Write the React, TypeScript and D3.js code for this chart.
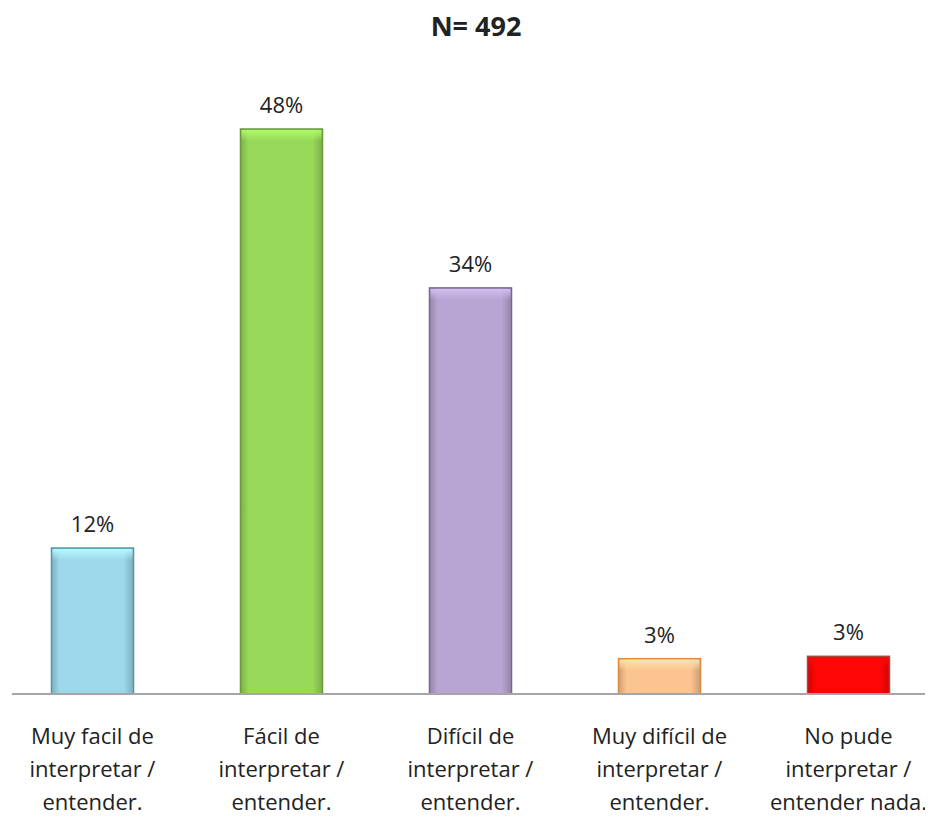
import React from "react";
import * as d3 from "d3";

const categories = [
  ["Muy facil de", "interpretar /", "entender."],
  ["Fácil de", "interpretar /", "entender."],
  ["Difícil de", "interpretar /", "entender."],
  ["Muy difícil de", "interpretar /", "entender."],
  ["No pude", "interpretar /", "entender nada."],
];
const values = [12.4, 48.0, 34.5, 3.0, 3.2];
const valueLabels = ["12%", "48%", "34%", "3%", "3%"];
const fills = ["#9dd8ea", "#98d95a", "#b8a5d3", "#fbc491", "#ff0606"];
const borders = ["#4d97ab", "#6b9a3d", "#7a6597", "#e08a3e", "#a84848"];
const title = "N= 492";

const W = 933;
const H = 819;
const baseY = 694;
const font = "'Open Sans', sans-serif";

export default function App() {
  const x = d3
    .scaleBand<number>()
    .domain(d3.range(categories.length))
    .range([-2, 943])
    .paddingInner(0.566)
    .paddingOuter(0.283);
  const y = d3.scaleLinear().domain([0, 48]).range([baseY, 129]);
  const bw = x.bandwidth();

  return (
    <svg width={W} height={H} style={{ display: "block", margin: "-8px", background: "#fff" }}>
      <defs>
        {fills.map((f, i) => {
          const c = d3.color(f)!;
          const dark = d3.color(f)!.darker(0.6).formatHex();
          const light = d3.color(f)!.brighter(0.4).formatHex();
          return (
            <React.Fragment key={i}>
              <linearGradient id={`h${i}`} x1="0" x2="1" y1="0" y2="0">
                <stop offset="0" stopColor={dark} />
                <stop offset="0.1" stopColor={c.formatHex()} />
                <stop offset="0.88" stopColor={c.formatHex()} />
                <stop offset="1" stopColor={dark} />
              </linearGradient>
              <linearGradient id={`v${i}`} x1="0" x2="0" y1="0" y2="1">
                <stop offset="0" stopColor={light} stopOpacity="1" />
                <stop offset="1" stopColor={light} stopOpacity="0" />
              </linearGradient>
            </React.Fragment>
          );
        })}
      </defs>
      <text x={476} y={36} textAnchor="middle" fontFamily={font} fontWeight="bold" fontSize={27} fill="#222">
        {title}
      </text>
      {values.map((v, i) => {
        const x0 = x(i)!;
        const top = y(v);
        const h = baseY - top;
        const bev = Math.min(11, h / 3);
        return (
          <g key={i}>
            <rect x={x0} y={top} width={bw} height={h} fill={`url(#h${i})`} stroke={borders[i]} strokeWidth={1.5} />
            <rect x={x0 + 1} y={top + 1} width={bw - 2} height={bev} fill={`url(#v${i})`} />
            <text
              x={x0 + bw / 2}
              y={top - 16}
              textAnchor="middle"
              fontFamily={font}
              fontSize={22}
              fill="#222"
            >
              {valueLabels[i]}
            </text>
          </g>
        );
      })}
      <line x1={12} x2={W} y1={baseY} y2={baseY} stroke="#a6a6a6" strokeWidth={2} />
      {categories.map((lines, i) => (
        <text key={i} textAnchor="middle" fontFamily={font} fontSize={22} fill="#222">
          {lines.map((l, j) => (
            <tspan key={j} x={x(i)! + bw / 2} y={744 + j * 33}>
              {l}
            </tspan>
          ))}
        </text>
      ))}
    </svg>
  );
}
